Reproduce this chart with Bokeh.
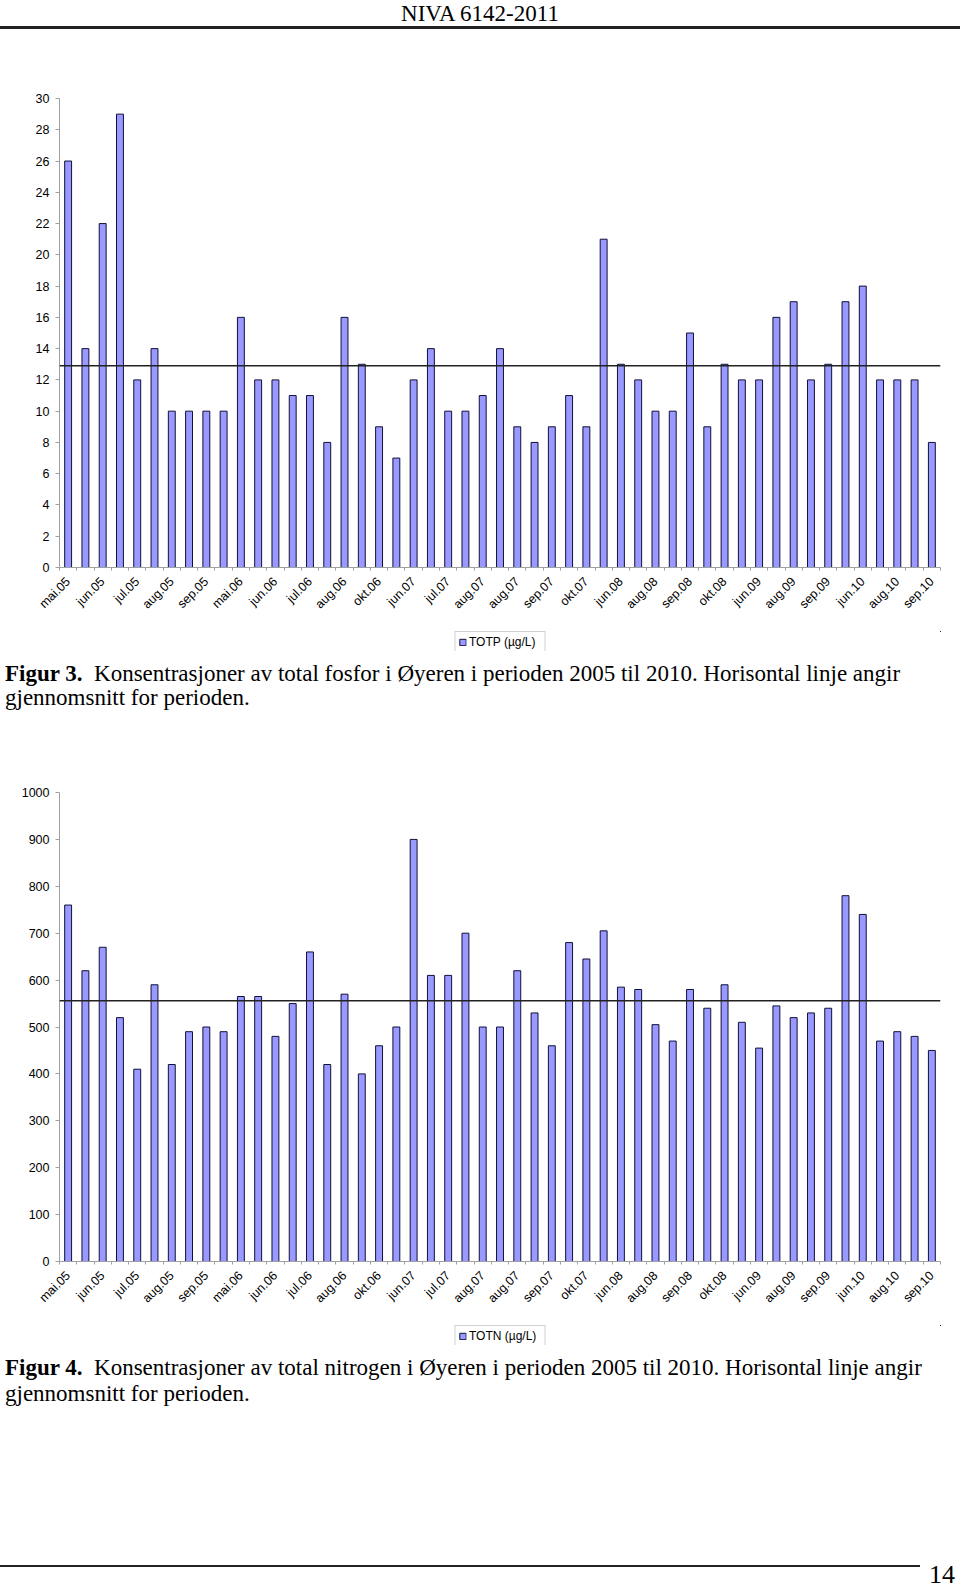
import math
from bokeh.plotting import figure
from bokeh.models import (Div, Range1d, FixedTicker, Span, Legend, LegendItem,
                          ColumnDataSource)
from bokeh.layouts import column
from bokeh.embed import file_html
from bokeh.resources import INLINE

# ---------------- data ----------------
MONTH_LABELS = ["mai.05", "jun.05", "jul.05", "aug.05", "sep.05", "mai.06", "jun.06",
                "jul.06", "aug.06", "okt.06", "jun.07", "jul.07", "aug.07", "aug.07",
                "sep.07", "okt.07", "jun.08", "aug.08", "sep.08", "okt.08", "jun.09",
                "aug.09", "sep.09", "jun.10", "aug.10", "sep.10"]

TOTP = [26, 14, 22, 29, 12, 14, 10, 10, 10, 10,
        16, 12, 12, 11, 11, 8, 16, 13, 9, 7,
        12, 14, 10, 10, 11, 14, 9, 8, 9, 11,
        9, 21, 13, 12, 10, 10, 15, 9, 13, 12,
        12, 16, 17, 12, 13, 17, 18, 12, 12, 12,
        8]
TOTP_MEAN = 12.9

TOTN = [760, 620, 670, 520, 410, 590, 420, 490, 500, 490,
        565, 565, 480, 550, 660, 420, 570, 400, 460, 500,
        900, 610, 610, 700, 500, 500, 620, 530, 460, 680,
        645, 705, 585, 580, 505, 470, 580, 540, 590, 510,
        455, 545, 520, 530, 540, 780, 740, 470, 490, 480,
        450]
TOTN_MEAN = 556

N = len(TOTP)
SAMPLE_POS = list(range(1, N + 1))
LABEL_POS = [1 + 2 * i for i in range(len(MONTH_LABELS))]

BAR_FILL = "#9999ff"
BAR_LINE = "#10103a"
AXIS_GREY = "#a0a0a0"
SANS = "Liberation Sans"
SERIF = "Liberation Serif"

FIG_W = 950


def bar_chart(values, mean, y_max, y_step, border_left, border_top):
    border_bottom = 64
    p = figure(width=FIG_W, height=border_top + 469 + border_bottom,
               min_border_left=border_left, min_border_right=FIG_W - 940,
               min_border_top=border_top, min_border_bottom=border_bottom,
               x_range=Range1d(0.5, N + 0.5), y_range=Range1d(0, y_max),
               output_backend="svg", toolbar_location=None,
               background_fill_color="white", border_fill_color="white")
    p.outline_line_color = None
    p.xgrid.grid_line_color = None
    p.ygrid.grid_line_color = None

    src = ColumnDataSource(dict(x=SAMPLE_POS, top=values))
    p.vbar(x="x", top="top", width=0.4, bottom=0, source=src,
           fill_color=BAR_FILL, line_color=BAR_LINE, line_width=1)

    p.add_layout(Span(location=mean, dimension="width", line_color="#222222",
                      line_width=1.5))

    # x axis
    xa = p.xaxis[0]
    xa.ticker = FixedTicker(ticks=LABEL_POS,
                            minor_ticks=[i + 0.5 for i in range(0, N + 1)])
    xa.major_label_overrides = {pos: lab for pos, lab in zip(LABEL_POS, MONTH_LABELS)}
    xa.major_label_orientation = math.pi / 4
    xa.major_tick_line_color = None
    xa.major_tick_out = 0
    xa.major_tick_in = 0
    xa.minor_tick_out = 3
    xa.minor_tick_in = 0
    xa.minor_tick_line_color = AXIS_GREY
    xa.axis_line_color = AXIS_GREY
    xa.major_label_text_font = SANS
    xa.major_label_text_font_size = "12.5px"
    xa.major_label_text_color = "black"
    xa.major_label_standoff = 9

    # y axis
    ya = p.yaxis[0]
    ya.ticker = FixedTicker(ticks=list(range(0, y_max + 1, y_step)), minor_ticks=[])
    ya.axis_line_color = AXIS_GREY
    ya.major_tick_line_color = AXIS_GREY
    ya.major_tick_out = 4
    ya.major_tick_in = 0
    ya.minor_tick_line_color = None
    ya.major_label_text_font = SANS
    ya.major_label_text_font_size = "12.5px"
    ya.major_label_text_color = "black"
    ya.major_label_standoff = 6
    return p


def legend_strip(values, legend_label):
    # strip under the chart holding its legend (its bars lie outside the view)
    lf = figure(width=FIG_W, height=20,
                min_border_left=50, min_border_right=0,
                min_border_top=0, min_border_bottom=0,
                x_range=Range1d(-1000, -999), y_range=Range1d(-1001, -1000),
                x_axis_location=None, y_axis_location=None,
                output_backend="svg", toolbar_location=None,
                background_fill_color="white", border_fill_color="white")
    lf.outline_line_color = None
    lf.xgrid.grid_line_color = None
    lf.ygrid.grid_line_color = None
    src = ColumnDataSource(dict(x=SAMPLE_POS, top=values))
    r = lf.vbar(x="x", top="top", width=0.4, bottom=0, source=src,
                fill_color=BAR_FILL, line_color=BAR_LINE, line_width=1)
    leg = Legend(items=[LegendItem(label=legend_label, renderers=[r])],
                 location="top_center", orientation="horizontal",
                 border_line_color=AXIS_GREY, border_line_width=1,
                 background_fill_color="white", background_fill_alpha=1,
                 label_text_font=SANS, label_text_font_size="12px",
                 label_text_color="black",
                 glyph_width=8, glyph_height=8, label_standoff=3,
                 label_height=13, label_width=72, padding=3, spacing=0, margin=0)
    lf.add_layout(leg)
    return lf


def caption_div(bold, rest, second, top_off, line_h):
    html = (
        f'<div style="position:relative;width:960px;height:66px;">'
        f'<div style="position:absolute;left:5px;top:{top_off}px;width:955px;'
        f'font-family:\'{SERIF}\';font-size:23px;line-height:{line_h}px;color:black;'
        f'white-space:nowrap;">'
        f'<b>{bold}</b>&nbsp; {rest}<br>{second}</div></div>'
    )
    return Div(text=html, width=960, height=66, margin=(0, 0, 0, 0),
               styles={"overflow": "visible"})


header = Div(
    text=(
        '<div style="position:relative;width:960px;height:40px;">'
        f'<div style="position:absolute;left:0px;top:1.5px;width:960px;text-align:center;'
        f'font-family:\'{SERIF}\';font-size:23px;line-height:23px;color:black;">'
        'NIVA 6142-2011</div>'
        '<div style="position:absolute;left:0px;top:26px;width:960px;height:2.5px;'
        'background:#222;"></div></div>'
    ),
    width=960, height=40, margin=(0, 0, 0, 0), styles={"overflow": "visible"})

p1 = bar_chart(TOTP, TOTP_MEAN, 30, 2, 53, 58)
leg1 = legend_strip(TOTP, "TOTP (µg/L)")
cap1 = caption_div("Figur 3.",
                   "Konsentrasjoner av total fosfor i Øyeren i perioden 2005 til 2010. "
                   "Horisontal linje angir",
                   "gjennomsnitt for perioden.", 11, 24)
p2 = bar_chart(TOTN, TOTN_MEAN, 1000, 100, 59, 75)
leg2 = legend_strip(TOTN, "TOTN (µg/L)")
cap2 = caption_div("Figur 4.",
                   "Konsentrasjoner av total nitrogen i Øyeren i perioden 2005 til 2010. "
                   "Horisontal linje angir",
                   "gjennomsnitt for perioden.", 10, 26)

footer = Div(
    text=(
        '<div style="position:relative;width:960px;height:178px;">'
        '<div style="position:absolute;left:0px;top:154px;width:920px;height:2px;'
        'background:#222;"></div>'
        f'<div style="position:absolute;left:929px;top:151px;'
        f'font-family:\'{SERIF}\';font-size:26px;line-height:26px;color:black;">14</div>'
        '</div>'
    ),
    width=960, height=178, margin=(0, 0, 0, 0), styles={"overflow": "visible"})

layout = column(header, p1, leg1, cap1, p2, leg2, cap2, footer, spacing=0)

open("out.html", "w").write(file_html(layout, INLINE))
